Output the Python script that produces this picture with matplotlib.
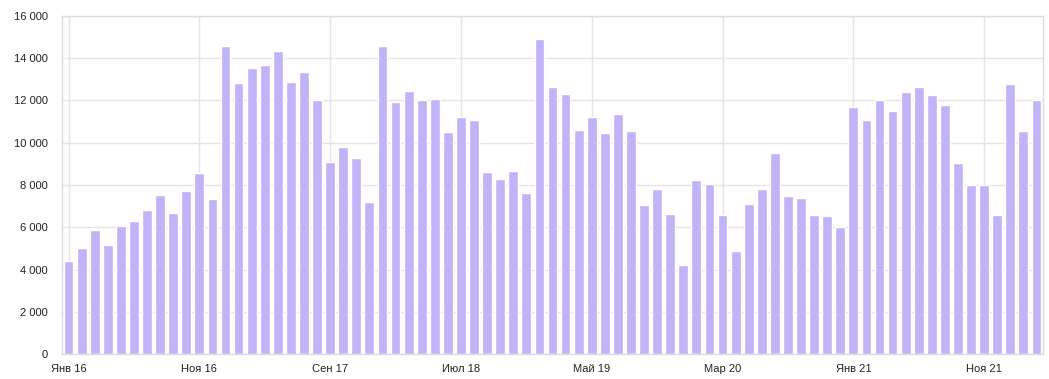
import matplotlib
matplotlib.use("Agg")
import matplotlib.pyplot as plt
from matplotlib.ticker import FuncFormatter, MultipleLocator

months = ["Янв", "Фев", "Мар", "Апр", "Май", "Июн", "Июл", "Авг", "Сен", "Окт", "Ноя", "Дек"]
start_year = 2016
values = [
    4400, 5020, 5870, 5160, 6060, 6290, 6810, 7520, 6670, 7710, 8560, 7330,
    14570, 12820, 13530, 13680, 14340, 12870, 13340, 12020, 9080, 9790, 9270, 7190,
    14570, 11920, 12440, 12020, 12070, 10500, 11210, 11070, 8610, 8280, 8660, 7620,
    14910, 12630, 12300, 10600, 11210, 10460, 11360, 10550, 7050, 7810, 6620, 4210,
    8230, 8040, 6580, 4870, 7100, 7810, 9510, 7480, 7380, 6580, 6530, 6010,
    11690, 11070, 12020, 11500, 12400, 12630, 12260, 11780, 9040, 8000, 8000, 6580,
    12780, 10550, 12020,
]
labels = [f"{months[i % 12]} {(start_year + i // 12) % 100:02d}" for i in range(len(values))]
tick_step = 10
y_max = 16000
y_step = 2000

plt.rcParams['font.family'] = ['Liberation Sans', 'DejaVu Sans']

fig = plt.figure(figsize=(10.49, 3.79), dpi=100)
ax = fig.add_axes([62 / 1049, 25 / 379, 981 / 1049, 338 / 379])

x = list(range(len(values)))
ax.bar(x, values, width=0.75, color="#c2b2f7", edgecolor="white", linewidth=1.0, zorder=2)

ax.set_xlim(-0.5, len(values) - 0.5)
ax.set_ylim(0, y_max)
ticks = list(range(0, len(values), tick_step))
ax.set_xticks(ticks)
ax.set_xticklabels([labels[i] for i in ticks])
ax.yaxis.set_major_locator(MultipleLocator(y_step))
ax.yaxis.set_major_formatter(FuncFormatter(lambda v, p: f"{int(v):,}".replace(",", " ")))

ax.grid(True, color="#e4e4e4", linewidth=1.0, zorder=0)
ax.set_axisbelow(True)
for s in ax.spines.values():
    s.set_color("#dcdcdc")
    s.set_linewidth(1.0)
ax.tick_params(axis="both", length=0, labelsize=8, colors="#222222")
ax.tick_params(axis="y", pad=10)
ax.tick_params(axis="x", pad=7)

fig.savefig("out.png", dpi=100)
